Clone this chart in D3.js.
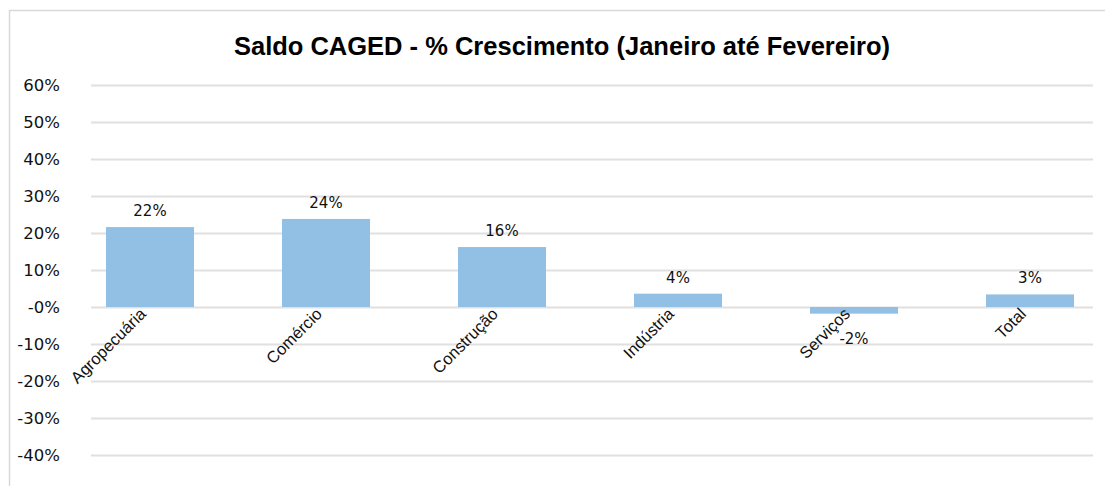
<!DOCTYPE html>
<html>
<head>
<meta charset="utf-8">
<script src="https://cdn.jsdelivr.net/npm/d3@7"></script>
<style>
  body { margin: 0; background: #fff; }
</style>
</head>
<body>
<script>
var categories = ["Agropecuária", "Comércio", "Construção", "Indústria", "Serviços", "Total"];
var growth = [21.6, 23.8, 16.2, 3.6, -1.8, 3.4];
var tickValues = [60, 50, 40, 30, 20, 10, 0, -10, -20, -30, -40];

var w = 1105;
var h = 486;
var svg = d3.select("body")
  .append("svg")
  .attr("width", w)
  .attr("height", h);

// frame (left and top edge)
svg.append("path")
  .attr("d", "M 9.5 486 V 10.5 H 1105")
  .attr("fill", "none")
  .attr("stroke", "#d9d9d9")
  .attr("stroke-width", 1.5);

// title
svg.append("text")
  .attr("x", 562)
  .attr("y", 55)
  .attr("text-anchor", "middle")
  .style("font-family", "'Liberation Sans', Arial, sans-serif")
  .style("font-weight", "bold")
  .style("font-size", "25.5px")
  .text("Saldo CAGED - % Crescimento (Janeiro até Fevereiro)");

var y = d3.scaleLinear().domain([-40, 60]).range([455, 85]);
var x = d3.scaleBand().domain(categories).range([62, 1118])
  .paddingInner(0.5).paddingOuter(0.25);

// gridlines + y labels
var yAxis = svg.append("g")
  .attr("transform", "translate(91,0)")
  .call(d3.axisLeft(y).tickValues(tickValues).tickSize(-1002).tickPadding(31)
    .tickFormat(function (d) { return (d === 0 ? "-0" : d) + "%"; }));
yAxis.select(".domain").remove();
yAxis.selectAll(".tick line").attr("stroke", "#e0e0e0").attr("stroke-width", 2);
yAxis.selectAll(".tick text")
  .attr("fill", "#111")
  .style("font-family", "'DejaVu Sans', sans-serif")
  .style("font-size", "16.5px");

// bars
svg.selectAll("rect.bar")
  .data(growth)
  .enter().append("rect")
  .attr("class", "bar")
  .attr("x", function (d, i) { return x(categories[i]); })
  .attr("width", x.bandwidth())
  .attr("y", function (d) { return y(Math.max(0, d)); })
  .attr("height", function (d) { return Math.abs(y(d) - y(0)); })
  .attr("fill", "#92c0e4");

// value labels
svg.selectAll("text.val")
  .data(growth)
  .enter().append("text")
  .attr("class", "val")
  .attr("x", function (d, i) { return x(categories[i]) + x.bandwidth() / 2; })
  .attr("y", function (d) { return d >= 0 ? y(d) - 11 : y(d) + 30; })
  .attr("text-anchor", "middle")
  .attr("fill", "#111")
  .style("font-family", "'DejaVu Sans', sans-serif")
  .style("font-size", "15px")
  .text(function (d) { return Math.round(d) + "%"; });

// category labels (rotated)
svg.selectAll("text.cat")
  .data(categories)
  .enter().append("text")
  .attr("class", "cat")
  .attr("transform", function (d) {
    return "translate(" + (x(d) + x.bandwidth() / 2 - 3) + ",315) rotate(-45)";
  })
  .attr("text-anchor", "end")
  .attr("fill", "#111")
  .style("font-family", "'Liberation Sans', Arial, sans-serif")
  .style("font-size", "16.5px")
  .text(function (d) { return d; });
</script>
</body>
</html>
